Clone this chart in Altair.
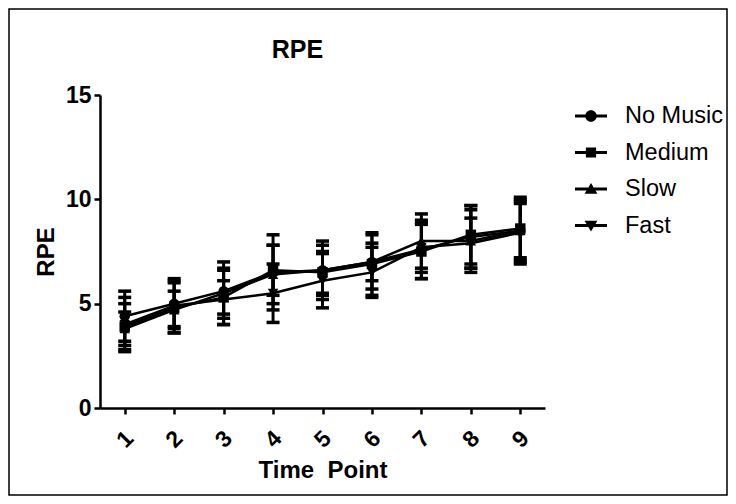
import altair as alt
import pandas as pd

series = ["No Music", "Medium", "Slow", "Fast"]
time_points = [1, 2, 3, 4, 5, 6, 7, 8, 9]
y_ticks = [0, 5, 10, 15]

no_music_mean = [4.4, 5.0, 5.6, 6.5, 6.6, 7.0, 7.6, 8.2, 8.5]
no_music_sd = [1.2, 1.1, 1.1, 1.8, 1.4, 1.3, 1.4, 1.5, 1.4]
medium_mean = [3.9, 4.8, 5.3, 6.6, 6.5, 6.9, 7.5, 8.3, 8.6]
medium_sd = [1.1, 1.2, 1.3, 1.2, 1.0, 1.5, 1.3, 1.4, 1.4]
slow_mean = [3.8, 4.7, 5.5, 6.4, 6.6, 7.0, 8.0, 8.0, 8.5]
slow_sd = [0.8, 0.9, 1.5, 1.4, 1.2, 0.9, 1.3, 1.5, 1.6]
fast_mean = [4.0, 4.9, 5.2, 5.5, 6.1, 6.5, 7.7, 7.9, 8.4]
fast_sd = [1.3, 1.3, 0.9, 1.4, 1.3, 1.2, 1.2, 1.2, 1.4]

means = [no_music_mean, medium_mean, slow_mean, fast_mean]
sds = [no_music_sd, medium_sd, slow_sd, fast_sd]

rows = []
for s, m, d in zip(series, means, sds):
    for t, mv, sv in zip(time_points, m, d):
        rows.append({"series": s, "tp": t, "mean": mv, "lo": mv - sv, "hi": mv + sv})
df = pd.DataFrame(rows)

marker_shapes = ["circle", "square", "triangle-up", "triangle-down"]
# legend symbols: line segment with the marker on it (unit box -1..1)
bar = "M-1,-0.09H1V0.09H-1Z"
legend_paths = [
    bar + "M0.36,0A0.36,0.36 0 1,1 -0.36,0A0.36,0.36 0 1,1 0.36,0Z",
    bar + "M-0.32,-0.32H0.32V0.32H-0.32Z",
    bar + "M0,-0.38L0.4,0.3L-0.4,0.3Z",
    bar + "M0,0.38L-0.4,-0.3L0.4,-0.3Z",
]

FONT = "Liberation Sans"

x_enc = alt.X(
    "tp:Q",
    scale=alt.Scale(domain=[0.5, 9.5], nice=False, zero=False),
    axis=alt.Axis(
        values=time_points,
        title="Time\u00a0 Point",
        labelAngle=315,
        labelAlign="center",
        labelBaseline="middle",
        labelPadding=25,
        titlePadding=6,
        grid=False,
    ),
)


def y_enc(field):
    return alt.Y(
        field,
        type="quantitative",
        scale=alt.Scale(domain=[0, 15], nice=False),
        axis=alt.Axis(values=y_ticks, title="RPE", grid=False, labelPadding=3, titlePadding=7),
    )


base = alt.Chart(df)

border = alt.Chart(alt.Data(values=[{"a": 1}])).mark_rect(
    filled=False, stroke="black", strokeWidth=1.5
).encode(x=alt.value(-91), x2=alt.value(627), y=alt.value(-86), y2=alt.value(400))

err = base.mark_rule(color="black", strokeWidth=3).encode(
    x=x_enc, y=y_enc("lo"), y2="hi:Q", detail="series:N"
)
cap_hi = base.mark_tick(orient="horizontal", size=13, thickness=3.5, color="black", opacity=1).encode(
    x=x_enc, y=y_enc("hi"), detail="series:N"
)
cap_lo = base.mark_tick(orient="horizontal", size=13, thickness=3.5, color="black", opacity=1).encode(
    x=x_enc, y=y_enc("lo"), detail="series:N"
)
lines = base.mark_line(color="black", strokeWidth=2.5).encode(
    x=x_enc, y=y_enc("mean"), detail="series:N"
)
points = base.mark_point(filled=True, size=110, color="black", opacity=1).encode(
    x=x_enc,
    y=y_enc("mean"),
    shape=alt.Shape("series:N", scale=alt.Scale(domain=series, range=marker_shapes), legend=None),
)

legend_df = pd.DataFrame({"series": series, "tp": [-5] * 4, "mean": [-5] * 4})
legend_layer = alt.Chart(legend_df).mark_point(
    filled=True, clip=True, size=1024, color="black", opacity=1
).encode(
    x=x_enc,
    y=y_enc("mean"),
    shape=alt.Shape(
        "series:N",
        scale=alt.Scale(domain=series, range=legend_paths),
        legend=alt.Legend(
            title=None,
            orient="none",
            legendX=475,
            legendY=5,
            labelFont=FONT,
            labelFontSize=23.5,
            labelColor="black",
            labelOffset=18,
            rowPadding=8.5,
            symbolSize=1024,
            symbolFillColor="black",
            symbolStrokeWidth=0,
            symbolOpacity=1,
            padding=0,
        ),
    ),
)

chart = (
    alt.layer(border, err, cap_hi, cap_lo, lines, points, legend_layer)
    .resolve_scale(shape="independent")
    .properties(
        width=445,
        height=313,
        padding={"left": 92, "top": 87, "right": 183, "bottom": 88},
        autosize=alt.AutoSizeParams(type="none"),
        title=alt.TitleParams(
            "RPE", font=FONT, fontSize=25, fontWeight="bold", color="black",
            frame="group", dx=-25, offset=0, dy=55
        ),
        background="white",
    )
    .configure_axis(
        domainColor="black",
        domainWidth=2.5,
        tickColor="black",
        tickWidth=2.5,
        tickSize=6,
        labelFont=FONT,
        labelFontWeight="bold",
        labelFontSize=23,
        labelColor="black",
        titleFont=FONT,
        titleFontWeight="bold",
        titleFontSize=24,
        titleColor="black",
    )
    .configure_view(stroke=None)
)

chart.save("out.html", embed_options={"renderer": "svg", "actions": False})
